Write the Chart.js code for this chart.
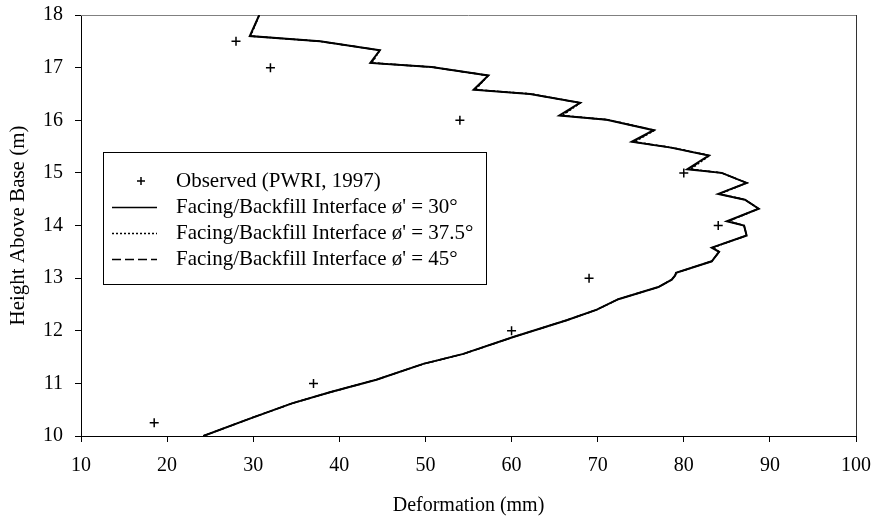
<!DOCTYPE html>
<html>
<head>
<meta charset="utf-8">
<script src="https://cdn.jsdelivr.net/npm/chart.js@4.4.1/dist/chart.umd.min.js"></script>
<style>
html,body{margin:0;padding:0;background:#fff;}
#wrap{width:877px;height:516px;position:relative;}
</style>
</head>
<body>
<div id="wrap"><canvas id="c" width="877" height="516"></canvas></div>
<script>
// ---- Data ----
const seriesLabels = [
  "Observed (PWRI, 1997)",
  "Facing/Backfill Interface \u00f8' = 30\u00b0",
  "Facing/Backfill Interface \u00f8' = 37.5\u00b0",
  "Facing/Backfill Interface \u00f8' = 45\u00b0"
];
const obsDeformation = [18.5, 37, 60, 69, 84, 80, 54, 32, 28];
const obsHeight      = [10.25, 11, 12, 13, 14, 15, 16, 17, 17.5];

const simHeight = [10.00, 10.33, 10.62, 10.83, 11.07, 11.37, 11.56, 11.88, 12.20, 12.40,
                   12.60, 12.83, 12.97, 13.05, 13.10, 13.32, 13.50, 13.58, 13.81, 14.00,
                   14.08, 14.32, 14.49, 14.60, 14.81, 15.00, 15.07, 15.33, 15.48, 15.59,
                   15.81, 16.01, 16.09, 16.33, 16.50, 16.58, 16.85, 17.01, 17.09, 17.33,
                   17.50, 17.60, 18.00];
const simDef30  = [24.2, 29.6, 34.5, 38.9, 44.3, 49.75, 54.4, 60.2, 66.4, 69.9,
                   72.4, 77.05, 78.6, 79.0, 79.1, 83.25, 84.1, 83.25, 87.3, 87.0,
                   85.0, 88.7, 87.1, 84.0, 87.3, 84.4, 80.4, 82.9, 78.5, 73.96,
                   76.5, 71.05, 65.55, 67.95, 62.15, 55.6, 57.3, 50.7, 43.6, 44.7,
                   37.75, 29.6, 30.7];
const simDef375 = [24.2, 29.6, 34.5, 38.9, 44.3, 49.75, 54.4, 60.2, 66.4, 69.9,
                   72.4, 77.05, 78.6, 79.0, 79.1, 83.25, 84.1, 83.4, 87.3, 87.0,
                   85.2, 88.7, 87.1, 84.2, 87.3, 84.4, 80.8, 83.0, 78.7, 74.3,
                   76.6, 71.2, 65.9, 68.0, 62.3, 55.8, 57.3, 50.8, 43.8, 44.7,
                   37.75, 29.7, 30.7];
const simDef45  = [24.2, 29.6, 34.5, 38.9, 44.3, 49.75, 54.4, 60.2, 66.4, 69.9,
                   72.4, 77.05, 78.6, 79.0, 79.1, 83.25, 84.1, 83.3, 87.3, 87.0,
                   85.1, 88.7, 87.1, 84.1, 87.3, 84.4, 80.6, 82.95, 78.6, 74.15,
                   76.55, 71.1, 65.75, 67.95, 62.2, 55.7, 57.3, 50.75, 43.7, 44.7,
                   37.75, 29.65, 30.7];

const xTicks = [10, 20, 30, 40, 50, 60, 70, 80, 90, 100];
const yTicks = [10, 11, 12, 13, 14, 15, 16, 17, 18];
const xTitle = "Deformation (mm)";
const yTitle = "Height Above Base (m)";

// ---- Build points ----
const pts = (xs, ys) => xs.map((x, i) => ({x: x, y: ys[i]}));

const FONT = "'Liberation Serif', 'Times New Roman', serif";

const plotFrame = {
  id: 'plotFrame',
  beforeDatasetsDraw(chart) {
    const {ctx, chartArea: a} = chart;
    ctx.save();
    ctx.lineWidth = 1;
    ctx.strokeStyle = '#808080';
    ctx.beginPath();
    ctx.moveTo(a.left, Math.round(a.top) + 0.5);
    ctx.lineTo(a.right, Math.round(a.top) + 0.5);
    ctx.stroke();
    ctx.strokeStyle = '#333';
    ctx.beginPath();
    ctx.moveTo(Math.round(a.right) + 0.5, a.top);
    ctx.lineTo(Math.round(a.right) + 0.5, a.bottom);
    ctx.stroke();
    ctx.restore();
  }
};

const boxLegend = {
  id: 'boxLegend',
  afterDraw(chart) {
    const ctx = chart.ctx;
    const L = 103.5, T = 152.5, W = 383, H = 132;
    ctx.save();
    ctx.fillStyle = '#fff';
    ctx.fillRect(L, T, W, H);
    ctx.strokeStyle = '#000';
    ctx.lineWidth = 1;
    ctx.strokeRect(L, T, W, H);
    ctx.font = '21px ' + FONT;
    ctx.textBaseline = 'middle';
    ctx.textAlign = 'left';
    ctx.fillStyle = '#000';
    const rowY = [181, 207, 233, 259];
    const x0 = 112, x1 = 157, tx = 176;
    chart.data.datasets.forEach((ds, i) => {
      const y = rowY[i];
      ctx.strokeStyle = '#000';
      if (i === 0) {
        ctx.lineWidth = 1.5;
        ctx.beginPath();
        ctx.moveTo(141 - 4, y); ctx.lineTo(141 + 4, y);
        ctx.moveTo(141, y - 4); ctx.lineTo(141, y + 4);
        ctx.stroke();
      } else {
        ctx.lineWidth = 1.5;
        ctx.setLineDash(ds.borderDash || []);
        ctx.beginPath();
        ctx.moveTo(x0, y + 0.5); ctx.lineTo(x1, y + 0.5);
        ctx.stroke();
        ctx.setLineDash([]);
      }
      ctx.fillText(ds.label, tx, y);
    });
    ctx.restore();
  }
};

new Chart(document.getElementById('c'), {
  type: 'scatter',
  data: {
    datasets: [
      {
        label: seriesLabels[0],
        data: pts(obsDeformation, obsHeight),
        showLine: false,
        pointStyle: 'cross',
        pointRadius: 4.5,
        pointBorderWidth: 1.5,
        borderColor: '#000',
        backgroundColor: '#000'
      },
      {
        label: seriesLabels[1],
        data: pts(simDef30, simHeight),
        showLine: true,
        pointRadius: 0,
        borderColor: '#000',
        borderWidth: 2,
        tension: 0,
        fill: false
      },
      {
        label: seriesLabels[2],
        data: pts(simDef375, simHeight),
        showLine: true,
        pointRadius: 0,
        borderColor: '#000',
        borderWidth: 1.5,
        borderDash: [2, 2],
        tension: 0,
        fill: false
      },
      {
        label: seriesLabels[3],
        data: pts(simDef45, simHeight),
        showLine: true,
        pointRadius: 0,
        borderColor: '#000',
        borderWidth: 1.5,
        borderDash: [9, 4],
        tension: 0,
        fill: false
      }
    ]
  },
  options: {
    responsive: false,
    animation: false,
    devicePixelRatio: 1,
    layout: { padding: { top: 15, right: 21, left: 0, bottom: 0 } },
    plugins: {
      legend: { display: false },
      tooltip: { enabled: false },
      title: { display: false }
    },
    scales: {
      x: {
        type: 'linear',
        min: 10, max: 100,
        afterBuildTicks: (s) => { s.ticks = xTicks.map(v => ({value: v})); },
        afterFit: (s) => { s.height = 80; s.paddingLeft = 0; s.paddingRight = 0; },
        ticks: {
          color: '#000',
          font: { family: FONT, size: 20 },
          padding: 12,
          maxRotation: 0,
          autoSkip: false
        },
        grid: { drawOnChartArea: false, drawTicks: true, tickLength: 6, color: '#000', tickWidth: 1 },
        border: { display: true, color: '#000', width: 1 },
        title: {
          display: true, text: xTitle, color: '#000',
          font: { family: FONT, size: 20, lineHeight: 1.0 },
          padding: { top: 0, bottom: 0 }
        }
      },
      y: {
        type: 'linear',
        min: 10, max: 18,
        afterBuildTicks: (s) => { s.ticks = yTicks.map(v => ({value: v})); },
        afterFit: (s) => { s.width = 81; s.paddingTop = 0; s.paddingBottom = 0; },
        ticks: {
          color: '#000',
          font: { family: FONT, size: 20 },
          padding: 12,
          autoSkip: false
        },
        grid: { drawOnChartArea: false, drawTicks: true, tickLength: 6, color: '#000', tickWidth: 1 },
        border: { display: true, color: '#000', width: 1 },
        title: {
          display: true, text: yTitle, color: '#000',
          font: { family: FONT, size: 21 },
          padding: { top: 6, bottom: 0 }
        }
      }
    }
  },
  plugins: [plotFrame, boxLegend]
});
</script>
</body>
</html>
